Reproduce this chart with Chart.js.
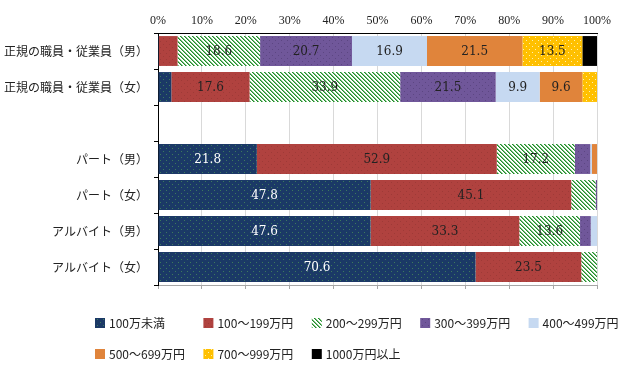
<!DOCTYPE html>
<html>
<head>
<meta charset="utf-8">
<script src="https://cdn.jsdelivr.net/npm/chart.js@4/dist/chart.umd.min.js"></script>
<style>
  body { margin: 0; background: #fff; }
  #wrap { width: 622px; height: 389px; position: relative; }
</style>
</head>
<body>
<div id="wrap"><canvas id="chart"></canvas></div>
<script>
// 雇用形態・性別 (3番目は空行)
const categories = ['正規の職員・従業員（男）', '正規の職員・従業員（女）', '', 'パート（男）', 'パート（女）', 'アルバイト（男）', 'アルバイト（女）'];
const seriesNames = ['100万未満', '100～199万円', '200～299万円', '300～399万円', '400～499万円', '500～699万円', '700～999万円', '1000万円以上'];
const xTickLabels = ['0%', '10%', '20%', '30%', '40%', '50%', '60%', '70%', '80%', '90%', '100%'];

// 値は図から読み取り (%)
const under100 = [0.2, 3.0, null, 21.8, 47.8, 47.6, 70.6];
const from100  = [4.2, 17.6, null, 52.9, 45.1, 33.3, 23.5];
const from200  = [18.6, 33.9, null, 17.2, 5.5, 13.6, 3.5];
const from300  = [20.7, 21.5, null, 3.4, 0.3, 2.4, 0];
const from400  = [16.9, 9.9, null, 0.4, 0, 1.4, 0];
const from500  = [21.5, 9.6, null, 1.1, 0, 0, 0];
const from700  = [13.5, 3.3, null, 0, 0, 0, 0];
const over1000 = [3.3, 0, null, 0, 0, 0, 0];

const series = [under100, from100, from200, from300, from400, from500, from700, over1000];

const canvas = document.getElementById('chart');
const ctx = canvas.getContext('2d');

// 塗りつぶしパターン
function dotted(bg, dot, pts) {
    const c = document.createElement('canvas');
    c.width = 6; c.height = 6;
    const g = c.getContext('2d');
    g.fillStyle = bg; g.fillRect(0, 0, 6, 6);
    g.fillStyle = dot;
    pts.forEach(([x, y]) => g.fillRect(x, y, 1, 1));
    return ctx.createPattern(c, 'repeat');
}
function hatch() {
    const c = document.createElement('canvas');
    c.width = 4; c.height = 4;
    const g = c.getContext('2d');
    g.fillStyle = '#fff'; g.fillRect(0, 0, 4, 4);
    for (let y = 0; y < 4; y++) {
        g.fillStyle = '#1f8a2c'; g.fillRect(y, y, 1, 1);
        g.fillStyle = '#7cc47c'; g.fillRect((y + 1) % 4, y, 1, 1);
    }
    return ctx.createPattern(c, 'repeat');
}

const fills = [
    dotted('#1b3966', '#3d7a5c', [[1, 1], [4, 4]]),
    dotted('#b0423f', '#9e3a37', [[1, 2], [4, 5]]),
    hatch(),
    dotted('#70579a', '#5c4682', [[2, 1], [5, 4]]),
    '#c6d9f1',
    '#e0843b',
    dotted('#ffc000', '#fff0b0', [[1, 1], [4, 4]]),
    '#000000'
];

// 行ごとの合計で100%に換算
const totals = categories.map((_, i) => series.reduce((s, arr) => s + (arr[i] || 0), 0));

const datasets = series.map((arr, k) => ({
    label: seriesNames[k],
    data: arr.map((v, i) => v == null ? null : v / totals[i] * 100),
    rawValues: arr,
    backgroundColor: fills[k],
    borderWidth: 0,
    barPercentage: 0.83,
    categoryPercentage: 1
}));

const valueLabels = {
    id: 'valueLabels',
    afterDatasetsDraw(chart) {
        const c = chart.ctx;
        c.save();
        c.font = '12px "DejaVu Serif"';
        c.textAlign = 'center';
        c.textBaseline = 'middle';
        chart.data.datasets.forEach((d, i) => {
            chart.getDatasetMeta(i).data.forEach((bar, j) => {
                const v = d.rawValues[j];
                if (v == null || v < 9) return;
                c.fillStyle = i === 0 ? '#fff' : '#222';
                c.fillText(v.toFixed(1), (bar.x + bar.base) / 2, bar.y + 1);
            });
        });
        c.restore();
    }
};

// 凡例 (5列の格子)
const gridLegend = {
    id: 'gridLegend',
    afterDraw(chart) {
        const c = chart.ctx;
        c.save();
        c.font = '12px "Noto Sans CJK JP"';
        c.textBaseline = 'middle';
        chart.data.datasets.forEach((d, i) => {
            const x = 95 + (i % 5) * 108.4;
            const y = 323 + Math.floor(i / 5) * 31;
            c.fillStyle = d.backgroundColor;
            c.fillRect(x, y - 5, 10, 10);
            c.fillStyle = '#222';
            c.fillText(d.label, x + 14, y);
        });
        c.restore();
    }
};

new Chart(ctx, {
    type: 'bar',
    data: { labels: categories, datasets: datasets },
    options: {
        indexAxis: 'y',
        responsive: true,
        maintainAspectRatio: false,
        animation: false,
        layout: { padding: { left: 0, right: 25, top: 0, bottom: 100 } },
        plugins: {
            legend: { display: false },
            tooltip: { enabled: false }
        },
        scales: {
            x: {
                position: 'top',
                stacked: true,
                min: 0, max: 100,
                ticks: {
                    stepSize: 10,
                    autoSkip: false,
                    maxRotation: 0,
                    padding: 5,
                    color: '#222',
                    font: { family: 'Liberation Serif', size: 12 },
                    callback: (v, i) => xTickLabels[i]
                },
                grid: { color: '#d9d9d9', drawTicks: false },
                border: { color: '#000', width: 1 },
                afterFit: s => { s.height = 33; }
            },
            x2: {
                position: 'bottom',
                min: 0, max: 100,
                ticks: { display: false, stepSize: 10 },
                grid: { drawOnChartArea: false, color: '#a6a6a6', tickLength: 4 },
                border: { color: '#a6a6a6' },
                afterFit: s => { s.height = 4; }
            },
            y: {
                stacked: true,
                grid: { drawOnChartArea: false, color: '#000', tickLength: 4 },
                border: { color: '#000', width: 1 },
                ticks: {
                    autoSkip: false,
                    padding: 6,
                    color: '#222',
                    font: { family: 'Noto Sans CJK JP', size: 12 }
                },
                afterFit: s => { s.width = 158; }
            }
        }
    },
    plugins: [valueLabels, gridLegend]
});
</script>
</body>
</html>
